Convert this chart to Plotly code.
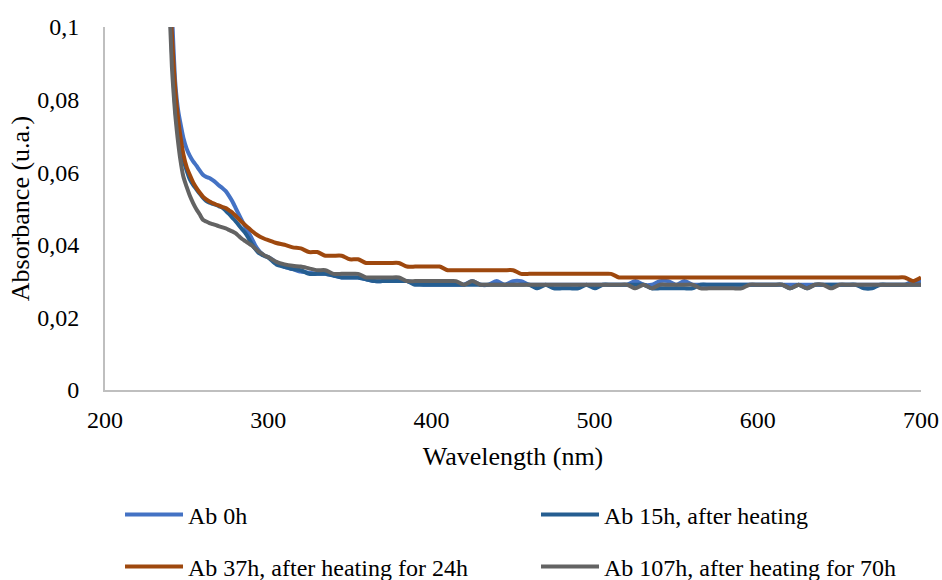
import plotly.graph_objects as go

# Wavelength grid (nm): dense sampling on the absorption edge, 5 nm steps on the plateau
wl_edge = [236, 238, 240, 241, 242, 243, 244, 245, 246, 248, 250, 252, 254, 256, 258,
           260, 262, 264, 266, 268, 270, 272, 274, 276, 278, 280, 282, 284, 286, 288,
           290, 292, 294, 296, 298]
wl_flat = list(range(300, 705, 5))
wavelength = wl_edge + wl_flat

ab_0h = [0.150, 0.125, 0.110, 0.104, 0.094, 0.085, 0.080, 0.0765, 0.0740, 0.0695, 0.0665,
         0.0645, 0.0630, 0.0618, 0.0605, 0.0593, 0.0587, 0.0584, 0.0578, 0.0571, 0.0563,
         0.0556, 0.0548, 0.0535, 0.0520, 0.0502, 0.0484, 0.0466, 0.0449, 0.0433, 0.0417,
         0.0399, 0.0386, 0.0376, 0.0369,
         # 300 ... 700
         0.0366, 0.0352, 0.0339, 0.0333, 0.0326, 0.0323, 0.0320, 0.0320, 0.0315, 0.0310,
         0.0310, 0.0310, 0.0305, 0.0300, 0.0300, 0.0300, 0.0300, 0.0300, 0.0295, 0.0290,
         0.0290, 0.0290, 0.0290, 0.0290, 0.0290, 0.0300, 0.0290, 0.0290, 0.0300, 0.0290,
         0.0300, 0.0300, 0.0290, 0.0290, 0.0290, 0.0290, 0.0290, 0.0290, 0.0290, 0.0290,
         0.0290, 0.0290, 0.0290, 0.0290, 0.0290, 0.0300, 0.0290, 0.0290, 0.0300, 0.0300,
         0.0290, 0.0300, 0.0290, 0.0290, 0.0290, 0.0290, 0.0290, 0.0290, 0.0290, 0.0290,
         0.0290, 0.0290, 0.0290, 0.0290, 0.0290, 0.0290, 0.0290, 0.0290, 0.0290, 0.0290,
         0.0290, 0.0290, 0.0290, 0.0290, 0.0290, 0.0290, 0.0290, 0.0290, 0.0290, 0.0300,
         0.0300]

ab_15h = [0.140, 0.120, 0.104, 0.093, 0.085, 0.078, 0.0735, 0.0700, 0.0675, 0.0635, 0.0605,
          0.0580, 0.0565, 0.0553, 0.0541, 0.0530, 0.0521, 0.0516, 0.0513, 0.0510, 0.0506,
          0.0502, 0.0494, 0.0485, 0.0475, 0.0465, 0.0454, 0.0443, 0.0432, 0.0418, 0.0402,
          0.0389, 0.0378, 0.0373, 0.0369,
          # 300 ... 700
          0.0365, 0.0346, 0.0339, 0.0333, 0.0330, 0.0320, 0.0320, 0.0320, 0.0315, 0.0310,
          0.0310, 0.0310, 0.0305, 0.0300, 0.0300, 0.0300, 0.0300, 0.0300, 0.0290, 0.0290,
          0.0290, 0.0290, 0.0290, 0.0290, 0.0290, 0.0290, 0.0290, 0.0290, 0.0290, 0.0290,
          0.0290, 0.0290, 0.0290, 0.0280, 0.0290, 0.0280, 0.0280, 0.0280, 0.0280, 0.0290,
          0.0280, 0.0290, 0.0290, 0.0290, 0.0290, 0.0290, 0.0290, 0.0280, 0.0280, 0.0280,
          0.0280, 0.0280, 0.0280, 0.0290, 0.0290, 0.0290, 0.0290, 0.0290, 0.0290, 0.0290,
          0.0290, 0.0290, 0.0290, 0.0290, 0.0280, 0.0290, 0.0280, 0.0290, 0.0290, 0.0290,
          0.0290, 0.0290, 0.0290, 0.0280, 0.0280, 0.0290, 0.0290, 0.0290, 0.0290, 0.0290,
          0.0290]

ab_37h = [0.140, 0.120, 0.106, 0.098, 0.090, 0.083, 0.078, 0.0740, 0.0705, 0.0650, 0.0615,
          0.0592, 0.0572, 0.0557, 0.0544, 0.0533, 0.0525, 0.0519, 0.0515, 0.0511, 0.0508,
          0.0504, 0.0501, 0.0495, 0.0489, 0.0480, 0.0471, 0.0462, 0.0454, 0.0446, 0.0438,
          0.0431, 0.0425, 0.0420, 0.0416,
          # 300 ... 700
          0.0413, 0.0405, 0.0400, 0.0393, 0.0390, 0.0380, 0.0380, 0.0370, 0.0370, 0.0370,
          0.0360, 0.0360, 0.0350, 0.0350, 0.0350, 0.0350, 0.0350, 0.0340, 0.0340, 0.0340,
          0.0340, 0.0340, 0.0330, 0.0330, 0.0330, 0.0330, 0.0330, 0.0330, 0.0330, 0.0330,
          0.0330, 0.0320, 0.0320, 0.0320, 0.0320, 0.0320, 0.0320, 0.0320, 0.0320, 0.0320,
          0.0320, 0.0320, 0.0320, 0.0310, 0.0310, 0.0310, 0.0310, 0.0310, 0.0310, 0.0310,
          0.0310, 0.0310, 0.0310, 0.0310, 0.0310, 0.0310, 0.0310, 0.0310, 0.0310, 0.0310,
          0.0310, 0.0310, 0.0310, 0.0310, 0.0310, 0.0310, 0.0310, 0.0310, 0.0310, 0.0310,
          0.0310, 0.0310, 0.0310, 0.0310, 0.0310, 0.0310, 0.0310, 0.0310, 0.0310, 0.0300,
          0.0310]

ab_107h = [0.135, 0.115, 0.100, 0.089, 0.082, 0.076, 0.0715, 0.0675, 0.0640, 0.0588, 0.0560,
           0.0535, 0.0515, 0.0498, 0.0484, 0.0469, 0.0464, 0.0460, 0.0457, 0.0454, 0.0451,
           0.0448, 0.0445, 0.0441, 0.0437, 0.0432, 0.0424, 0.0416, 0.0410, 0.0404, 0.0398,
           0.0390, 0.0382, 0.0376, 0.0370,
           # 300 ... 700
           0.0366, 0.0353, 0.0346, 0.0342, 0.0340, 0.0335, 0.0330, 0.0330, 0.0320, 0.0320,
           0.0320, 0.0320, 0.0310, 0.0310, 0.0310, 0.0310, 0.0310, 0.0300, 0.0300, 0.0300,
           0.0300, 0.0300, 0.0300, 0.0300, 0.0290, 0.0300, 0.0290, 0.0290, 0.0290, 0.0290,
           0.0290, 0.0290, 0.0290, 0.0290, 0.0290, 0.0290, 0.0290, 0.0290, 0.0290, 0.0290,
           0.0290, 0.0290, 0.0290, 0.0290, 0.0290, 0.0280, 0.0290, 0.0280, 0.0290, 0.0290,
           0.0290, 0.0290, 0.0290, 0.0280, 0.0280, 0.0280, 0.0280, 0.0280, 0.0280, 0.0290,
           0.0290, 0.0290, 0.0290, 0.0290, 0.0280, 0.0290, 0.0280, 0.0290, 0.0290, 0.0280,
           0.0290, 0.0290, 0.0290, 0.0290, 0.0290, 0.0290, 0.0290, 0.0290, 0.0290, 0.0290,
           0.0290]

series_names = ["Ab 0h", "Ab 15h, after heating",
                "Ab 37h, after heating for 24h", "Ab 107h, after heating for 70h"]
series_values = [ab_0h, ab_15h, ab_37h, ab_107h]
series_colors = ["#4472C4", "#255E91", "#9E480E", "#636363"]

# one legend box per entry, laid out as a 2 x 2 grid under the axis title
legend_ids = ["legend", "legend2", "legend3", "legend4"]
legend_x = [0.0184, 0.5282, 0.0184, 0.5282]
legend_y = [-0.3444, -0.3444, -0.4876, -0.4876]

FONT = "Liberation Serif"

fig = go.Figure()
for name, vals, color, lg in zip(series_names, series_values, series_colors, legend_ids):
    fig.add_trace(go.Scatter(
        x=wavelength, y=vals, name=name, mode="lines",
        line=dict(color=color, width=4, shape="spline", smoothing=0.6),
        legend=lg,
    ))

legend_layout = {}
for lg, lx, ly in zip(legend_ids, legend_x, legend_y):
    legend_layout[lg] = dict(
        x=lx, y=ly, xanchor="left", yanchor="middle",
        orientation="h", itemwidth=58,
        font=dict(family=FONT, size=24, color="#000000"),
        bgcolor="rgba(0,0,0,0)",
    )

fig.update_layout(
    width=942, height=580,
    margin=dict(l=105, r=21, t=27, b=190, autoexpand=False),
    paper_bgcolor="white", plot_bgcolor="white",
    separators=",.",
    font=dict(family=FONT, size=24, color="#000000"),
    showlegend=True,
    **legend_layout,
    xaxis=dict(
        range=[200, 700], dtick=100, tick0=200,
        showgrid=False, zeroline=False,
        showline=True, linecolor="#BFBFBF", linewidth=2,
        ticks="", ticklabelstandoff=7,
        tickfont=dict(family=FONT, size=24, color="#000000"),
        title=dict(text="Wavelength (nm)", standoff=15,
                   font=dict(family=FONT, size=26, color="#000000")),
    ),
    yaxis=dict(
        range=[0, 0.1], dtick=0.02, tick0=0,
        showgrid=False, zeroline=False,
        showline=True, linecolor="#BFBFBF", linewidth=2,
        ticks="", ticklabelstandoff=19,
        tickfont=dict(family=FONT, size=24, color="#000000"),
        title=dict(text="Absorbance (u.a.)", standoff=0,
                   font=dict(family=FONT, size=26, color="#000000")),
    ),
)

fig.write_html("out.html")
